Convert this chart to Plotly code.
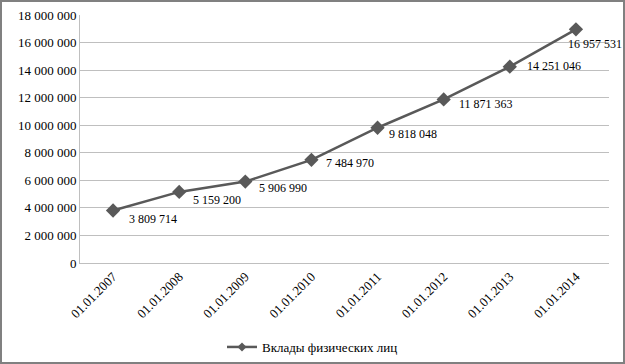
import plotly.graph_objects as go

categories = ["01.01.2007", "01.01.2008", "01.01.2009", "01.01.2010",
              "01.01.2011", "01.01.2012", "01.01.2013", "01.01.2014"]
values = [3809714, 5159200, 5906990, 7484970, 9818048, 11871363, 14251046, 16957531]
series_name = "Вклады физических лиц"
tick_vals = [0, 2000000, 4000000, 6000000, 8000000, 10000000, 12000000,
             14000000, 16000000, 18000000]

# data-label placement (pixel offsets right / down from each point)
label_dx = [14, 12, 12, 13, 9, 13, 15, -10]
label_dy = [8, 8, 6, 3, 6, 5, -1, 15]


def fmt(v):
    return f"{v:,}".replace(",", " ")


labels = [fmt(v) for v in values]
tick_text = [fmt(v) for v in tick_vals]

font = "Liberation Serif"
line_color = "#595959"

fig = go.Figure()
fig.add_trace(go.Scatter(
    x=categories, y=values, name=series_name, showlegend=False,
    mode="lines+markers",
    line=dict(color=line_color, width=2.5),
    marker=dict(symbol="diamond", size=11, color=line_color),
))
# legend entry (smaller marker, as in the original legend)
fig.add_trace(go.Scatter(
    x=[None], y=[None], name=series_name, showlegend=True,
    mode="lines+markers",
    line=dict(color=line_color, width=2.5),
    marker=dict(symbol="diamond", size=7, color=line_color),
))

annotations = []
for c, v, s, dx, dy in zip(categories, values, labels, label_dx, label_dy):
    annotations.append(dict(
        x=c, y=v, text=s, showarrow=False, xanchor="left", yanchor="middle",
        xshift=dx, yshift=-dy,
        font=dict(family=font, size=12, color="#000000"),
    ))

W, H = 625, 364
l, r, t, b = 80, 16, 15, 101
pw, ph = W - l - r, H - t - b

fig.update_layout(
    width=W, height=H,
    margin=dict(l=l, r=r, t=t, b=b, autoexpand=False),
    paper_bgcolor="white", plot_bgcolor="white",
    font=dict(family=font, size=13, color="#000000"),
    showlegend=True,
    legend=dict(orientation="h", xref="container", x=0.5, xanchor="center",
                yref="container", y=1 - 347 / H, yanchor="middle",
                font=dict(family=font, size=13), itemwidth=30,
                bgcolor="rgba(0,0,0,0)"),
    xaxis=dict(type="category", tickangle=-45, showgrid=False,
               showline=True, linecolor="#bfbfbf", linewidth=1,
               ticks="", range=[-0.5, 7.5], automargin=False,
               tickfont=dict(family=font, size=13)),
    yaxis=dict(range=[0, 18000000], tickvals=tick_vals, ticktext=tick_text,
               showgrid=True, gridcolor="#bfbfbf", gridwidth=1,
               showline=True, linecolor="#bfbfbf", linewidth=1,
               ticks="", zeroline=False, automargin=False,
               tickfont=dict(family=font, size=13)),
    annotations=annotations,
    shapes=[dict(type="rect", xref="paper", yref="paper",
                 x0=-(l - 1) / pw, x1=(W - l - 1) / pw,
                 y0=-(b - 1) / ph, y1=(H - b - 1) / ph,
                 line=dict(color="#808080", width=2))],
)

fig.write_html(
    "out.html",
    config={"displayModeBar": False},
    post_script="document.body.style.margin='0';document.body.style.overflow='hidden';",
)
